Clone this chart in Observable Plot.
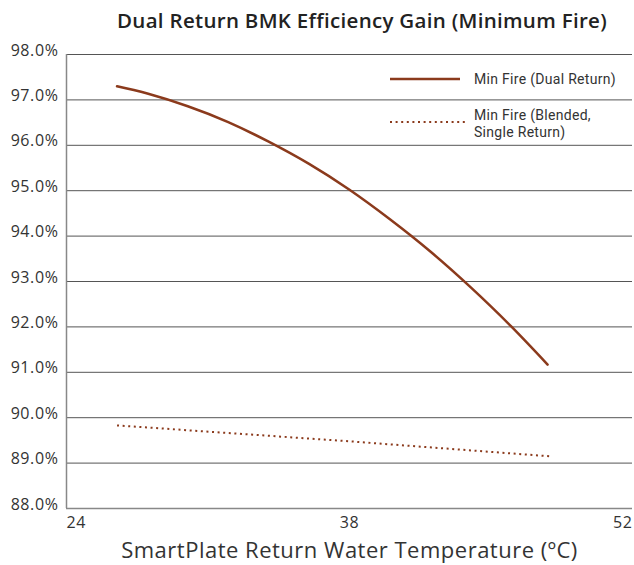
<!DOCTYPE html>
<html>
<head>
<meta charset="utf-8">
<script src="https://cdn.jsdelivr.net/npm/d3@7"></script>
<script src="https://cdn.jsdelivr.net/npm/@observablehq/plot@0.6"></script>
<style>
  body { margin: 0; background: #fff; font-family: "Open Sans", sans-serif; }
  #wrap { position: relative; width: 634px; height: 565px; overflow: hidden; }
  #title { position: absolute; left: 90px; width: 544px; top: 6px; text-align: center; font-size: 20.5px; font-weight: 600; color: #222; white-space: nowrap; letter-spacing: 0.3px; }
  #chart { position: absolute; left: 0; top: 40px; }
  .leg { position: absolute; font-family: Roboto, sans-serif; font-size: 14px; color: #333; line-height: 16px; white-space: nowrap; letter-spacing: 0.3px; }
  .legsvg { position: absolute; }
</style>
</head>
<body>
<div id="wrap">
  <div id="title">Dual Return BMK Efficiency Gain (Minimum Fire)</div>
  <div id="chart"></div>
</div>
<script>
// Data
const seriesNames = ["Min Fire (Dual Return)", "Min Fire (Blended, Single Return)"];
const legendLines2 = ["Min Fire (Blended,", "Single Return)"];
const dualTemps = [26.5, 28, 30, 32, 34, 36, 38, 40, 42, 44, 46, 47.8];
const dualEff   = [97.30, 97.14, 96.86, 96.51, 96.08, 95.59, 95.02, 94.37, 93.66, 92.87, 92.01, 91.17];
const singleTemps = [26.5, 38, 47.9];
const singleEff   = [89.83, 89.48, 89.15];
const yTicks = [88, 89, 90, 91, 92, 93, 94, 95, 96, 97, 98];
const xTicks = [24, 38, 52];
const xTitle = "SmartPlate Return Water Temperature (ºC)";

const color = "#8b3a1c";
const dual = dualTemps.map((t, i) => ({t, v: dualEff[i]}));
const single = singleTemps.map((t, i) => ({t, v: singleEff[i]}));

const plot = Plot.plot({
  width: 634,
  height: 525,
  marginTop: 14,
  marginBottom: 57,
  marginLeft: 66,
  marginRight: 2,
  style: { fontFamily: "'Open Sans', sans-serif", fontSize: "15px", color: "#333", background: "#fff", overflow: "visible" },
  x: { domain: [24, 52] },
  y: { domain: [88, 98] },
  marks: [
    Plot.ruleY(yTicks.filter(d => d > 88), { stroke: "#555", strokeWidth: 1 }),
    Plot.ruleY([88], { stroke: "#888", strokeWidth: 1.5 }),
    Plot.ruleX([24], { stroke: "#888", strokeWidth: 1.5 }),
    Plot.axisY({ ticks: yTicks, tickSize: 0, tickPadding: 8, dy: -4, tickFormat: d => d.toFixed(1) + "%", label: null, fontSize: 16 }),
    Plot.axisX({ ticks: [xTicks[0]], tickSize: 0, tickPadding: 8, textAnchor: "start", label: null, fontSize: 16 }),
    Plot.axisX({ ticks: [xTicks[1]], tickSize: 0, tickPadding: 8, textAnchor: "middle", label: null, fontSize: 16 }),
    Plot.axisX({ ticks: [xTicks[2]], tickSize: 0, tickPadding: 8, textAnchor: "end", label: null, fontSize: 16 }),
    Plot.text([xTitle], { frameAnchor: "bottom", dy: 49, fontSize: 22, fill: "#333", lineAnchor: "bottom" }),
    Plot.line(single, { x: "t", y: "v", stroke: color, strokeWidth: 2, strokeDasharray: "2 3.6", strokeLinecap: "butt" }),
    Plot.line(dual, { x: "t", y: "v", stroke: color, strokeWidth: 2.5, curve: "natural" })
  ]
});
plot.querySelectorAll("g[aria-label='y-axis tick label'] text, g[aria-label='x-axis tick label'] text").forEach(t => t.setAttribute("letter-spacing", "0.6"));
plot.querySelectorAll("g[aria-label='text'] text").forEach(t => t.setAttribute("letter-spacing", "0.5"));
document.getElementById("chart").appendChild(plot);

// Legend overlay
const wrap = document.getElementById("wrap");
function legLine(y, dash, w) {
  const s = document.createElementNS("http://www.w3.org/2000/svg", "svg");
  s.setAttribute("class", "legsvg");
  s.setAttribute("width", 80); s.setAttribute("height", 6);
  s.style.left = "389px"; s.style.top = (y - 3) + "px";
  const l = document.createElementNS("http://www.w3.org/2000/svg", "line");
  l.setAttribute("x1", 1); l.setAttribute("x2", dash ? 76 : 71);
  l.setAttribute("y1", 3); l.setAttribute("y2", 3);
  l.setAttribute("stroke", color); l.setAttribute("stroke-width", w);
  if (dash) l.setAttribute("stroke-dasharray", dash);
  s.appendChild(l);
  wrap.appendChild(s);
}
function legText(txt, top) {
  const d = document.createElement("div"); d.className = "leg";
  d.style.left = "474px"; d.style.top = top + "px"; d.textContent = txt;
  wrap.appendChild(d);
}
legLine(79, null, 2.5);
legLine(122, "2 3.6", 2);
legText(seriesNames[0], 71);
legText(legendLines2[0], 107);
legText(legendLines2[1], 123.5);
</script>
</body>
</html>
